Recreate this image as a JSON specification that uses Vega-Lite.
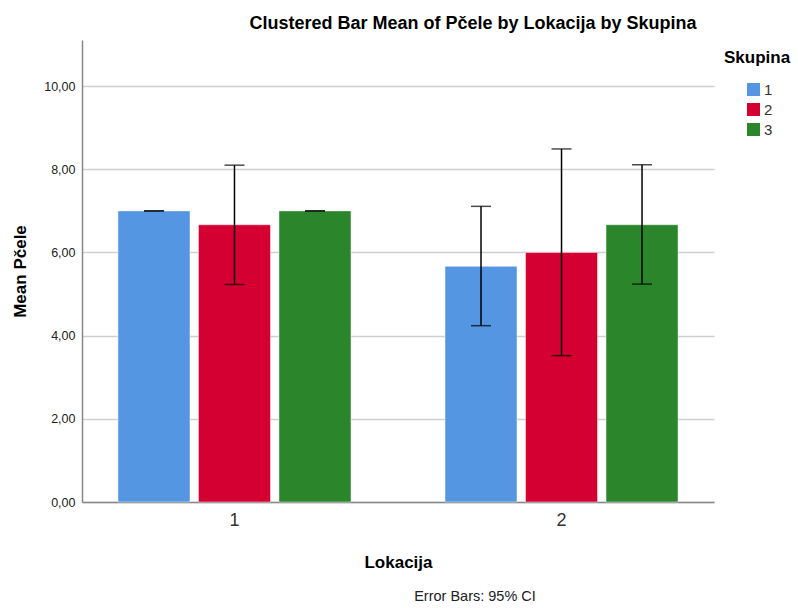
{
  "$schema": "https://vega.github.io/schema/vega-lite/v6.json",
  "autosize": {"type": "pad"},
  "padding": {"left": 11, "top": 15, "right": 0, "bottom": 0},
  "background": "white",
  "title": {
    "text": "Clustered Bar Mean of Pčele by Lokacija by Skupina",
    "anchor": "middle",
    "frame": "group",
    "dx": 75,
    "offset": 7,
    "font": "Liberation Sans",
    "fontSize": 18,
    "fontWeight": "bold",
    "color": "#000000"
  },
  "vconcat": [
    {
      "width": 632,
      "height": 462,
      "title": {
        "text": "Error Bars: 95% CI",
        "orient": "bottom",
        "anchor": "middle",
        "frame": "group",
        "dx": 77,
        "offset": 20,
        "font": "Liberation Sans",
        "fontSize": 14.5,
        "fontWeight": "normal",
        "color": "#222222"
      },
      "data": {
        "values": [
          {"Lokacija": "1", "Skupina": "1", "mean": 7.0, "lo": 7.0, "hi": 7.0},
          {"Lokacija": "1", "Skupina": "2", "mean": 6.667, "lo": 5.23, "hi": 8.1},
          {"Lokacija": "1", "Skupina": "3", "mean": 7.0, "lo": 7.0, "hi": 7.0},
          {"Lokacija": "2", "Skupina": "1", "mean": 5.667, "lo": 4.24, "hi": 7.11},
          {"Lokacija": "2", "Skupina": "2", "mean": 6.0, "lo": 3.52, "hi": 8.49},
          {"Lokacija": "2", "Skupina": "3", "mean": 6.667, "lo": 5.24, "hi": 8.11}
        ]
      },
      "encoding": {
        "x": {
          "field": "Lokacija",
          "type": "nominal",
          "scale": {"paddingInner": 0.2875, "paddingOuter": 0.11},
          "axis": {
            "title": "Lokacija",
            "labelAngle": 0,
            "labelFontSize": 18,
            "labelPadding": 9,
            "labelColor": "#333333",
            "ticks": false,
            "titleFontSize": 17,
            "titlePadding": 25,
            "titleFontWeight": "bold",
            "grid": false
          }
        },
        "xOffset": {
          "field": "Skupina",
          "type": "nominal",
          "scale": {"paddingInner": 0.1056, "paddingOuter": 0}
        }
      },
      "layer": [
        {
          "mark": {"type": "bar", "stroke": "white", "strokeOpacity": 0.45, "strokeWidth": 1},
          "encoding": {
            "y": {
              "field": "mean",
              "type": "quantitative",
              "scale": {"domain": [0, 11.11], "nice": false},
              "axis": {
                "title": "Mean Pčele",
                "values": [0, 2, 4, 6, 8, 10],
                "labelExpr": "replace(format(datum.value, '.2f'), '.', ',')",
                "labelFontSize": 12.5,
                "labelPadding": 7,
                "ticks": false,
                "titleFontSize": 17,
                "titleFontWeight": "bold",
                "titlePadding": 14,
                "grid": true
              }
            },
            "color": {
              "field": "Skupina",
              "type": "nominal",
              "scale": {"domain": ["1", "2", "3"], "range": ["#5596E2", "#D50032", "#2B852B"]},
              "legend": {
                "title": "Skupina",
                "orient": "right",
                "offset": 0,
                "padding": 10,
                "symbolType": "square",
                "symbolSize": 169,
                "symbolStrokeWidth": 0,
                "symbolOffset": 22,
                "labelOffset": 3,
                "labelFontSize": 15,
                "labelColor": "#333333",
                "rowPadding": 4,
                "titleFontSize": 17,
                "titleFontWeight": "bold",
                "titlePadding": 15
              }
            }
          }
        },
        {
          "mark": {"type": "rule", "color": "#000000", "strokeWidth": 1.5},
          "encoding": {
            "y": {"field": "lo", "type": "quantitative"},
            "y2": {"field": "hi"}
          }
        },
        {
          "mark": {"type": "tick", "color": "#000000", "thickness": 1.5, "size": 20},
          "encoding": {
            "y": {"field": "lo", "type": "quantitative"}
          }
        },
        {
          "mark": {"type": "tick", "color": "#000000", "thickness": 1.5, "size": 20},
          "encoding": {
            "y": {"field": "hi", "type": "quantitative"}
          }
        }
      ]
    }
  ],
  "config": {
    "font": "Liberation Sans",
    "view": {"stroke": null},
    "axis": {
      "domainColor": "#888888",
      "domainWidth": 1.5,
      "gridColor": "#CFCFCF",
      "gridWidth": 1.5,
      "labelColor": "#222222",
      "titleColor": "#000000",
      "labelFont": "Liberation Sans",
      "titleFont": "Liberation Sans"
    },
    "legend": {
      "labelColor": "#222222",
      "titleColor": "#000000",
      "labelFont": "Liberation Sans",
      "titleFont": "Liberation Sans"
    }
  }
}
